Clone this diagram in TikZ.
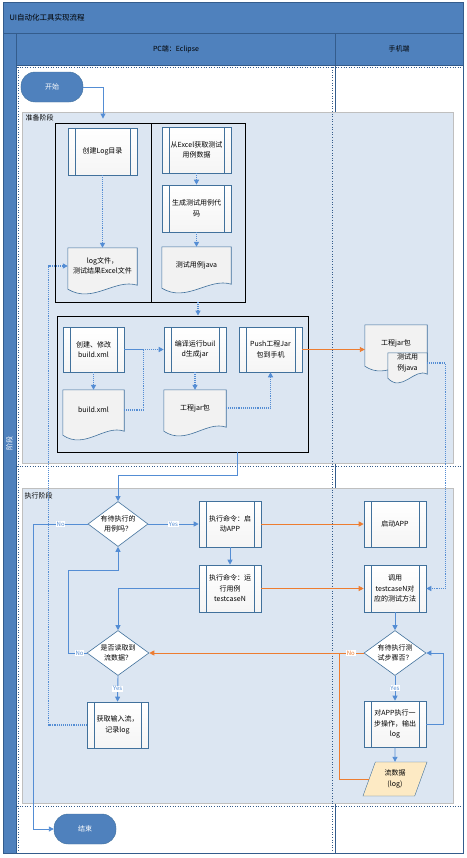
\documentclass[tikz,border=0pt]{standalone}
\usepackage{fontspec}
\setmainfont{Noto Sans CJK SC}
\usetikzlibrary{calc}
\usetikzlibrary{positioning}
\usetikzlibrary{shapes.geometric}
\usetikzlibrary{arrows.meta}
\definecolor{lane-blue}{RGB}{79, 129, 189}
\definecolor{lane-dark}{RGB}{52, 92, 140}
\definecolor{band-blue}{RGB}{220, 230, 242}
\definecolor{box-blue}{RGB}{65, 113, 156}
\definecolor{link-blue}{RGB}{84, 141, 212}
\definecolor{link-orange}{RGB}{237, 125, 49}
\definecolor{doc-gray}{RGB}{242, 242, 242}
\definecolor{data-cream}{RGB}{253, 234, 196}
\newcommand{\nodefont}{\fontsize{7bp}{10.5bp}\selectfont}
\newcommand{\tagfont}{\fontsize{6bp}{7bp}\selectfont}
% wavy bottom of a document box
\newcommand{\docwave}[1]{%
  \fill[doc-gray] (#1.south west) -- (#1.south east) -- ([yshift=-1bp]#1.south east)
    .. controls ($(#1.south east)!0.32!(#1.south west)+(0bp,6bp)$) and ($(#1.south east)!0.64!(#1.south west)+(0bp,-20bp)$) .. ([yshift=-5bp]#1.south west) -- cycle;
  \draw[box-blue, line width=0.6bp] (#1.north west) -- (#1.north east) -- ([yshift=-1bp]#1.south east)
    .. controls ($(#1.south east)!0.32!(#1.south west)+(0bp,6bp)$) and ($(#1.south east)!0.64!(#1.south west)+(0bp,-20bp)$) .. ([yshift=-5bp]#1.south west) -- cycle;}

\begin{document}
\begin{tikzpicture}[x=1bp, y=-1bp,
    every node/.style={font=\nodefont},
    procbox/.style={draw=box-blue, line width=0.6bp, top color=white, bottom color=black!4,
      minimum width=62bp, minimum height=46bp, inner sep=1bp, align=center,
      path picture={\draw[box-blue, line width=0.6bp]
        ([xshift=7bp]path picture bounding box.north west) -- ([xshift=7bp]path picture bounding box.south west)
        ([xshift=-7bp]path picture bounding box.north east) -- ([xshift=-7bp]path picture bounding box.south east);}},
    docbox/.style={fill=doc-gray, minimum width=62bp, minimum height=36bp, inner sep=1bp, align=center},
    termbox/.style={fill=lane-blue, draw=box-blue, rounded corners=14bp, minimum width=62bp,
      minimum height=30bp, text=white},
    askbox/.style={diamond, aspect=1.33, draw=box-blue, line width=0.6bp, fill=white, inner sep=0pt,
      minimum width=60bp, minimum height=45bp, align=center},
    databox/.style={trapezium, trapezium left angle=70, trapezium right angle=110, fill=data-cream,
      draw=box-blue, line width=0.4bp, minimum width=60bp, minimum height=34bp, inner sep=0pt, align=center},
    groupbox/.style={draw=black, line width=0.9bp, inner sep=0pt},
    band/.style={fill=band-blue, draw=black!25, line width=0.6bp},
    lanesep/.style={lane-dark, line width=0.7bp},
    lanedots/.style={lane-dark, dotted, line width=0.6bp},
    link/.style={link-blue, line width=0.9bp},
    dotlink/.style={densely dotted, line width=1.4bp},
    pushlink/.style={link-orange, line width=0.9bp},
    arrowed/.style={-{Triangle[length=5bp, width=5bp]}},
    tag/.style={font=\tagfont, fill=white, inner sep=0.8bp}]

\useasboundingbox (0,0) rectangle (467,858);

% swimlane frame
\fill[lane-blue] (3,2) rectangle (463,65);
\fill[lane-blue] (3,2) rectangle (16,853);
\draw[lanesep] (3,2) rectangle (463,853);
\draw[lanesep] (3,33) -- (463,33);
\draw[lanesep] (16,65) -- (463,65);
\draw[lanesep] (16,33) -- (16,853);
\draw[lanesep] (335,33) -- (335,853);
\node[anchor=west, font=\fontsize{7.5bp}{9bp}\selectfont] (title) at (6,18) {UI自动化工具实现流程};
\node (pclane) at (176,49) {PC端：Eclipse};
\node (phonelane) at (399,49) {手机端};
\node[rotate=90, text=white] (phase) at (9.5,443) {阶段};

% phase bands
\draw[band] (22,112) rectangle (453,463);
\draw[band] (22,488) rectangle (453,803);
\draw[lanedots] (17,67) -- (463,67);
\draw[lanedots] (17,466) -- (463,466);
\draw[lanedots] (17,806) -- (463,806);
\draw[lanedots] (18,67) -- (18,852);
\draw[lanedots] (332,67) -- (332,852);
\node[anchor=west] (prep) at (22,118) {准备阶段};
\node[anchor=west] (exec) at (21,496) {执行阶段};

% groups
\node[groupbox, minimum width=96bp, minimum height=179bp] (colA) at (103,212.5) {};
\node[groupbox, minimum width=94bp, minimum height=179bp] (colB) at (198,212.5) {};
\node[groupbox, minimum width=251bp, minimum height=136bp] (grpB) at (182.5,384) {};

% PC side, preparation
\node[termbox] (start) at (52,87) {开始};
\node[procbox, minimum width=69bp, minimum height=47bp] (mklog) at (102.5,151.5) {创建Log目录};
\node[docbox, minimum width=69bp] (logdoc) at (102.5,266) {log文件，\\测试结果Excel文件};
\docwave{logdoc}
\node[procbox, minimum width=69bp] (getxls) at (196.5,150) {从Excel获取测试\\用例数据};
\node[procbox, minimum width=69bp, minimum height=47bp] (gencode) at (196.5,208.5) {生成测试用例代\\码};
\node[docbox, minimum width=69bp] (casedoc) at (196.5,265) {测试用例java};
\docwave{casedoc}

\node[procbox, minimum width=61bp, minimum height=45bp] (editxml) at (93.5,349.5) {创建、修改\\build.xml};
\node[procbox, minimum height=45bp] (build) at (195,349.5) {编译运行buil\\d生成jar};
\node[procbox, minimum width=63bp, minimum height=45bp] (push) at (270.5,349.5) {Push工程Jar\\包到手机};
\node[docbox, minimum width=61bp, minimum height=40bp] (xmldoc) at (93.5,410) {build.xml};
\docwave{xmldoc}
\node[docbox] (jardoc) at (195,408) {工程jar包};
\docwave{jardoc}

% phone side, preparation
\node[docbox] (pjar) at (396,343) {工程jar包};
\docwave{pjar}
\node[docbox, minimum width=39bp, minimum height=20bp, inner sep=0pt] (pcase) at (407.5,363) {测试用\\例java};
\docwave{pcase}

% execution
\node[askbox] (d1) at (118,524) {有待执行的\\用例吗？};
\node[procbox] (startapp) at (230,524) {执行命令：启\\动APP};
\node[procbox, minimum height=47bp] (runcase) at (230,588.5) {执行命令：运\\行用例\\testcaseN};
\node[askbox, minimum width=62bp] (d2) at (118,653) {是否读取到\\流数据？};
\node[procbox, minimum width=61bp] (readlog) at (117.5,725) {获取输入流，\\记录log};
\node[termbox] (end) at (85,829) {结束};

\node[procbox] (papp) at (395,524) {启动APP};
\node[procbox, minimum height=47bp] (pcall) at (395,588.5) {调用\\testcaseN对\\应的测试方法};
\node[askbox, minimum width=62bp] (d3) at (395,653) {有待执行测\\试步骤否？};
\node[procbox] (pstep) at (395,724) {对APP执行一\\步操作，输出\\log};
\node[databox] (flow) at (395,779) {流数据\\(log)};

% connectors, preparation
\draw[link, arrowed, shorten >=4bp] (start.east) -| (colA.north);
\draw[link, dotlink, arrowed] (mklog) -- (logdoc);
\draw[link, dotlink, arrowed] (getxls) -- (gencode);
\draw[link, dotlink, arrowed] (gencode) -- (casedoc);
\draw[link, dotlink, arrowed] (colB.south) -- (colB.south |- grpB.north);
\draw[link, dotlink, arrowed] (editxml) -- (xmldoc);
\draw[link] (editxml.east) -- ++(19,0) coordinate (xmljoin);
\draw[link, dotlink, arrowed] (xmldoc.east) -| (xmljoin) -- (build.west);
\draw[link, dotlink, arrowed] (build) -- (jardoc);
\draw[link, dotlink, arrowed] (jardoc.east) -| (push.south);
\draw[pushlink, arrowed] (push.east) -- (pjar.west |- push.east);
\draw[link, dotlink, arrowed] (pcase.east) -- ++(18,0) |- (pcall.east);

% connectors, execution
\draw[link, arrowed] ([xshift=55bp]grpB.south) -- ++(0,23) -| (d1.north);
\draw[link, arrowed] (d1.east) -- node[tag]{Yes} (startapp.west);
\draw[link, arrowed] (d1.west) -- node[tag]{No} ++(-54,0) |- (end.west);
\draw[link, arrowed] (startapp) -- (runcase);
\draw[pushlink, arrowed] (startapp.east) -- (papp.west);
\draw[pushlink, arrowed] (runcase.east) -- (pcall.west);
\draw[link, arrowed] (runcase.west) -| (d2.north);
\draw[link, arrowed] (d2.west) -- node[tag, pos=0.4]{No} ++(-18,0) -- ++(0,-83) -| (d1.south);
\draw[link, arrowed] (d2.south) -- node[tag]{Yes} (readlog.north);
\draw[link, dotlink, arrowed] (readlog.west) -- ++(-38,0) |- (logdoc.west);
\draw[link, arrowed] (pcall) -- (d3);
\draw[link, arrowed] (d3.south) -- node[tag]{Yes} (pstep.north);
\draw[link, arrowed] (pstep.east) -- ++(17,0) |- (d3.east);
\draw[link, arrowed] (pstep) -- (flow);
\draw[pushlink, arrowed] (d3.west) -- node[tag, pos=0.06]{No} (d2.east);
\draw[pushlink] (flow.west) -| ($(d3.west)+(-24,0)$);
\end{tikzpicture}
\end{document}
